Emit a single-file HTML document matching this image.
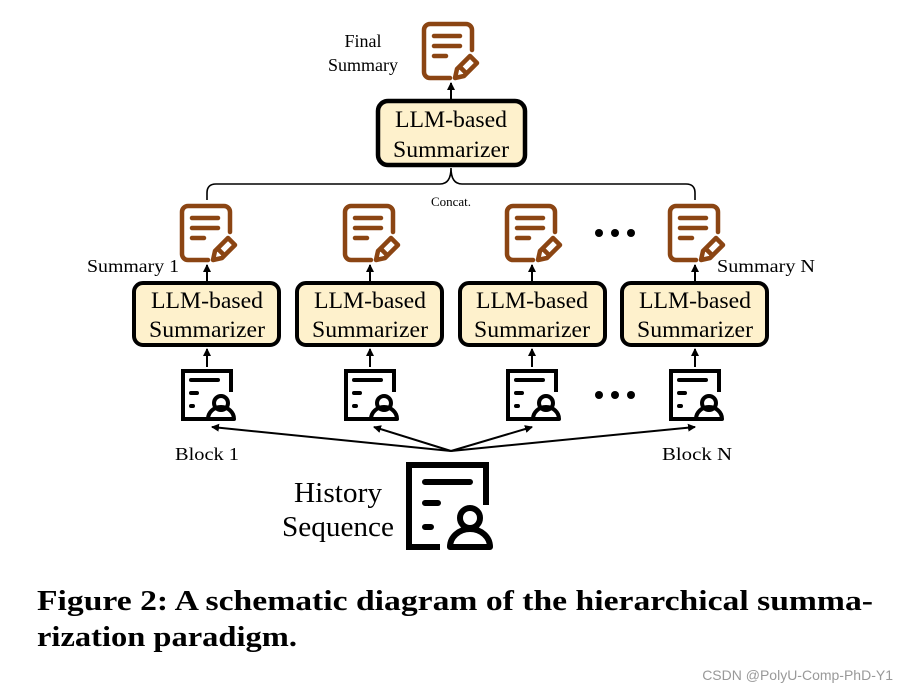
<!DOCTYPE html>
<html><head><meta charset="utf-8"><style>
html,body{margin:0;padding:0;background:#fff;}
svg{display:block;}
text{font-family:"Liberation Serif",serif;}
</style></head><body>
<svg width="900" height="688" viewBox="0 0 900 688">
<defs>
<g id="doc" fill="none" stroke="#8b4513" stroke-width="4.5" stroke-linecap="round" stroke-linejoin="round">
<path d="M28 56 H8 a6 6 0 0 1 -6 -6 V8 a6 6 0 0 1 6 -6 H44 a6 6 0 0 1 6 6 V28"/>
<path d="M12 14 H38 M12 24 H38 M12 34 H24"/>
<path d="M33 56 L35 47 L48 34 L55 41 L42 54 Z M38 45 L44 51"/>
</g>
<g id="blk" fill="none" stroke="#000" stroke-width="4" stroke-linecap="round">
<path d="M28 49 H1 V1 H49 V22" stroke-linecap="butt"/>
<path d="M9 10 H36 M9 23 H15 M9 36 H11"/>
<circle cx="39" cy="33" r="7"/>
<path d="M26 49 a13 12 0 0 1 26 0 Z" stroke-linejoin="round"/>
</g>
<marker id="ah" markerWidth="8" markerHeight="8" refX="7" refY="4" orient="auto" markerUnits="userSpaceOnUse"><path d="M0 0 L8 4 L0 8 Z" fill="#000"/></marker>
</defs>

<text x="363" y="47" font-size="18" text-anchor="middle">Final</text>
<text x="363" y="71" font-size="18" text-anchor="middle">Summary</text>
<use href="#doc" x="422" y="22"/>
<line x1="451" y1="100" x2="451" y2="83" stroke="#000" stroke-width="2" marker-end="url(#ah)"/>
<rect x="378" y="101" width="147" height="64" rx="10" fill="#fef1cc" stroke="#000" stroke-width="4.5"/>
<g font-size="23" text-anchor="middle" lengthAdjust="spacingAndGlyphs">
<text x="451" y="127" textLength="112" lengthAdjust="spacingAndGlyphs">LLM-based</text>
<text x="451" y="157" textLength="116" lengthAdjust="spacingAndGlyphs">Summarizer</text>
</g>

<path d="M207 200 V193 Q207 184 216 184 H440 Q451 184 451 168 Q451 184 462 184 H686 Q695 184 695 193 V200" fill="none" stroke="#000" stroke-width="1.6"/>
<text x="451" y="206" font-size="13" text-anchor="middle">Concat.</text>

<use href="#doc" x="180" y="204"/><use href="#doc" x="343" y="204"/><use href="#doc" x="505" y="204"/><use href="#doc" x="668" y="204"/>
<text x="133" y="272" font-size="18" text-anchor="middle" textLength="92" lengthAdjust="spacingAndGlyphs">Summary 1</text>
<text x="766" y="272" font-size="18" text-anchor="middle" textLength="98" lengthAdjust="spacingAndGlyphs">Summary N</text>
<g stroke="#000" stroke-width="2">
<line x1="207" y1="282" x2="207" y2="265" marker-end="url(#ah)"/>
<line x1="370" y1="282" x2="370" y2="265" marker-end="url(#ah)"/>
<line x1="532" y1="282" x2="532" y2="265" marker-end="url(#ah)"/>
<line x1="695" y1="282" x2="695" y2="265" marker-end="url(#ah)"/>
<line x1="207" y1="367" x2="207" y2="349" marker-end="url(#ah)"/>
<line x1="370" y1="367" x2="370" y2="349" marker-end="url(#ah)"/>
<line x1="532" y1="367" x2="532" y2="349" marker-end="url(#ah)"/>
<line x1="695" y1="367" x2="695" y2="349" marker-end="url(#ah)"/>
</g>
<g fill="#fef1cc" stroke="#000" stroke-width="4">
<rect x="134" y="283" width="145" height="62" rx="9"/>
<rect x="297" y="283" width="145" height="62" rx="9"/>
<rect x="460" y="283" width="145" height="62" rx="9"/>
<rect x="622" y="283" width="145" height="62" rx="9"/>
</g>
<g font-size="23" text-anchor="middle">
<text x="207" y="308" textLength="112" lengthAdjust="spacingAndGlyphs">LLM-based</text><text x="207" y="337" textLength="116" lengthAdjust="spacingAndGlyphs">Summarizer</text>
<text x="370" y="308" textLength="112" lengthAdjust="spacingAndGlyphs">LLM-based</text><text x="370" y="337" textLength="116" lengthAdjust="spacingAndGlyphs">Summarizer</text>
<text x="532" y="308" textLength="112" lengthAdjust="spacingAndGlyphs">LLM-based</text><text x="532" y="337" textLength="116" lengthAdjust="spacingAndGlyphs">Summarizer</text>
<text x="695" y="308" textLength="112" lengthAdjust="spacingAndGlyphs">LLM-based</text><text x="695" y="337" textLength="116" lengthAdjust="spacingAndGlyphs">Summarizer</text>
</g>
<g fill="#000">
<circle cx="599" cy="233" r="4"/><circle cx="615" cy="233" r="4"/><circle cx="631" cy="233" r="4"/>
<circle cx="599" cy="395" r="4"/><circle cx="615" cy="395" r="4"/><circle cx="631" cy="395" r="4"/>
</g>
<use href="#blk" x="182" y="370"/><use href="#blk" x="345" y="370"/><use href="#blk" x="507" y="370"/><use href="#blk" x="670" y="370"/>

<g stroke="#000" stroke-width="2">
<line x1="451" y1="451" x2="212" y2="427" marker-end="url(#ah)"/>
<line x1="451" y1="451" x2="374" y2="427" marker-end="url(#ah)"/>
<line x1="451" y1="451" x2="532" y2="427" marker-end="url(#ah)"/>
<line x1="451" y1="451" x2="695" y2="427" marker-end="url(#ah)"/>
</g>
<text x="207" y="460" font-size="18" text-anchor="middle" textLength="64" lengthAdjust="spacingAndGlyphs">Block 1</text>
<text x="697" y="460" font-size="18" text-anchor="middle" textLength="70" lengthAdjust="spacingAndGlyphs">Block N</text>

<text x="338" y="502" font-size="28" text-anchor="middle" textLength="88" lengthAdjust="spacingAndGlyphs">History</text>
<text x="338" y="536" font-size="28" text-anchor="middle" textLength="112" lengthAdjust="spacingAndGlyphs">Sequence</text>
<g fill="none" stroke="#000" stroke-width="6" stroke-linecap="round">
<path d="M440 547 H409 V465 H486 V505" stroke-linecap="butt"/>
<path d="M425 482 H470 M425 503 H438 M425 527 H431"/>
<circle cx="470" cy="518" r="10"/>
<path d="M450 547 a20 18 0 0 1 40 0 Z" stroke-linejoin="round"/>
</g>

<text x="37" y="610" font-size="29" font-weight="bold" textLength="836" lengthAdjust="spacingAndGlyphs">Figure 2: A schematic diagram of the hierarchical summa-</text>
<text x="37" y="646" font-size="29" font-weight="bold" textLength="260" lengthAdjust="spacingAndGlyphs">rization paradigm.</text>
<text x="893" y="680" font-size="14" fill="#999" text-anchor="end" style="font-family:'Liberation Sans',sans-serif">CSDN @PolyU-Comp-PhD-Y1</text>
</svg>
</body></html>
